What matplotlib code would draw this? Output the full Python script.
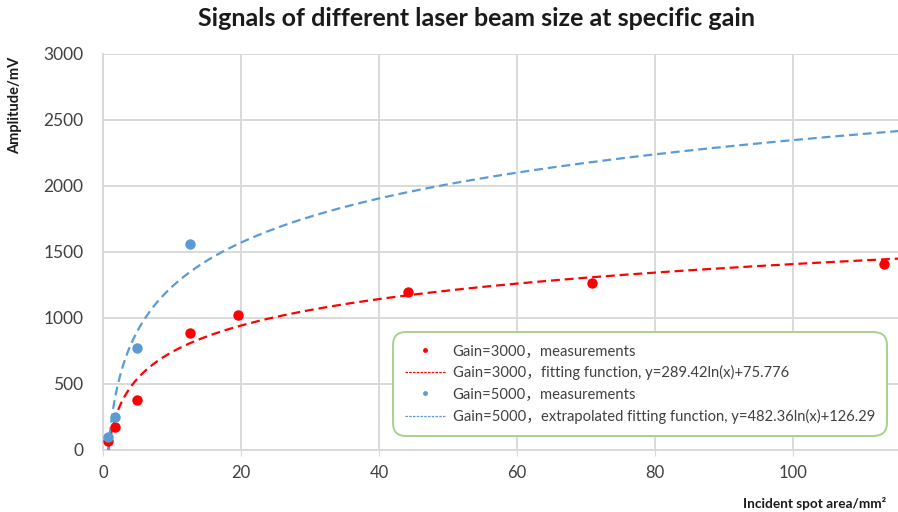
import matplotlib.pyplot as plt
import numpy as np
from matplotlib.lines import Line2D

# Spot areas (mm^2) and measured amplitudes (mV)
area_3000 = [0.785, 1.77, 4.91, 12.57, 19.63, 44.18, 70.88, 113.1]
amp_3000 = [68, 178, 379, 885, 1020, 1200, 1268, 1408]
area_5000 = [0.785, 1.77, 4.91, 12.57]
amp_5000 = [98, 250, 775, 1560]

# Log fit coefficients y = a*ln(x) + b
fit_3000 = (289.42, 75.776)
fit_5000 = (482.36, 126.29)

x_ticks = [0, 20, 40, 60, 80, 100]
y_ticks = [0, 500, 1000, 1500, 2000, 2500, 3000]

RED = "#ff0000"
BLUE = "#5b9bd5"
GRID = "#d9d9d9"
TXT = "#404040"
FONT = ["Lato", "Noto Sans CJK SC", "DejaVu Sans"]

plt.rcParams["font.family"] = FONT

fig = plt.figure(figsize=(8.98, 5.12), dpi=100)
ax = fig.add_axes([103 / 898, 62 / 512, 1 - 103 / 898, 396 / 512])

xs = np.linspace(0.77, 115.5, 600)
ax.plot(xs, fit_3000[0] * np.log(xs) + fit_3000[1], color=RED, lw=1.6,
        dashes=(4, 2.2), zorder=3)
ax.plot(xs, fit_5000[0] * np.log(xs) + fit_5000[1], color=BLUE, lw=1.6,
        dashes=(4, 2.2), zorder=3)
ax.plot(area_3000, amp_3000, "o", color=RED, ms=7.5, mec="none", zorder=4)
ax.plot(area_5000, amp_5000, "o", color=BLUE, ms=7.5, mec="none", zorder=4)

ax.set_xlim(0, 115.2)
ax.set_ylim(0, 3000)
ax.set_xticks(x_ticks)
ax.set_yticks(y_ticks)
ax.grid(True, color=GRID, lw=1.4)
ax.set_axisbelow(True)
for side in ["top", "right"]:
    ax.spines[side].set_visible(False)
for side in ["left", "bottom"]:
    ax.spines[side].set_color(GRID)
    ax.spines[side].set_linewidth(1.4)
ax.tick_params(axis="y", length=0, pad=14, labelsize=12.5, labelcolor=TXT)
ax.tick_params(axis="x", length=4, color=GRID, pad=7, labelsize=12,
               labelcolor=TXT)

fig.text(476 / 898, 1 - 19 / 512, "Signals of different laser beam size at specific gain",
         ha="center", va="center", fontsize=18, fontweight="bold", color="#1a1a1a")
fig.text(15 / 898, 1 - 105 / 512, "Amplitude/mV", rotation=90, ha="center",
         va="center", fontsize=10.5, fontweight="bold", color="#1a1a1a")
fig.text(886 / 898, 1 - 504 / 512, "Incident spot area/mm²", ha="right",
         va="center", fontsize=9.8, fontweight="bold", color="#1a1a1a")

handles = [
    Line2D([], [], ls="none", marker="o", ms=3.5, color=RED, mec="none"),
    Line2D([], [], color=RED, lw=0.9, dashes=(2, 1)),
    Line2D([], [], ls="none", marker="o", ms=3.5, color=BLUE, mec="none"),
    Line2D([], [], color=BLUE, lw=0.9, dashes=(2, 1)),
]
labels = [
    "Gain=3000，measurements",
    "Gain=3000，fitting function, y=289.42ln(x)+75.776",
    "Gain=5000，measurements",
    "Gain=5000，extrapolated fitting function, y=482.36ln(x)+126.29",
]
leg = fig.legend(handles, labels, loc="upper left",
                 bbox_to_anchor=(393 / 898, 1 - 332 / 512), fontsize=10.6,
                 frameon=True, fancybox=True, handlelength=2.8,
                 handletextpad=0.45, labelspacing=0.5, borderpad=0.8,
                 borderaxespad=0, labelcolor=TXT)
frame = leg.get_frame()
frame.set_edgecolor("#a9d18e")
frame.set_linewidth(1.4)
frame.set_facecolor("white")
frame.set_alpha(1)
frame.set_boxstyle("round", pad=0, rounding_size=0.9)

fig.savefig("out.png", dpi=100)
